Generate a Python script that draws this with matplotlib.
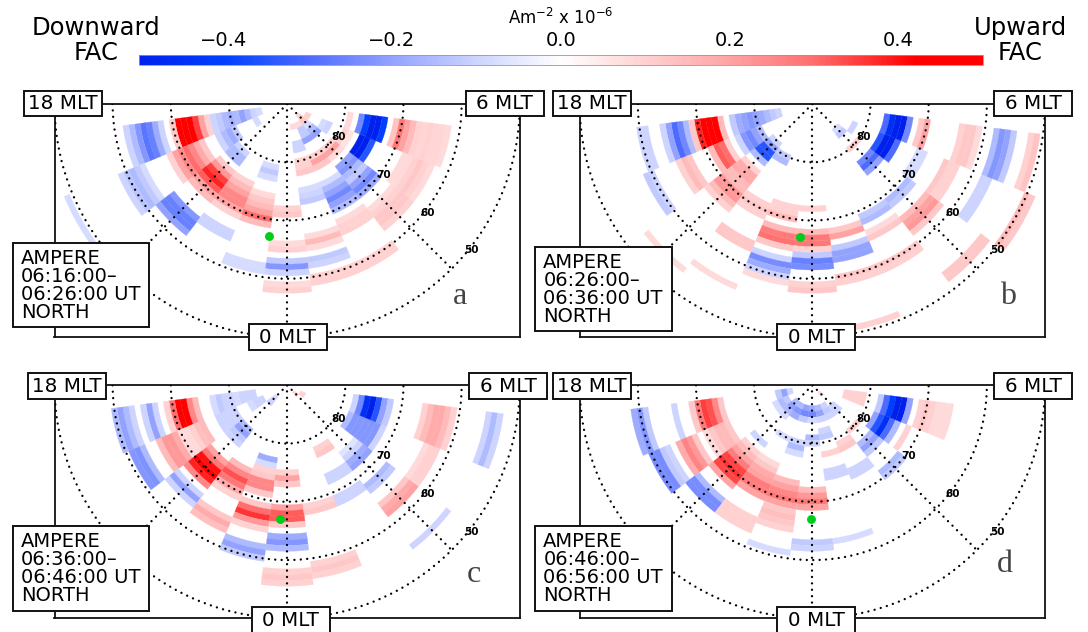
"""AMPERE field-aligned current dials, four 10 minute intervals, north."""
import matplotlib
matplotlib.use("Agg")
import matplotlib.pyplot as plt
import numpy as np
from matplotlib.cm import ScalarMappable
from matplotlib.collections import PolyCollection
from matplotlib.colors import LinearSegmentedColormap, Normalize
from matplotlib.patches import Rectangle

plt.rcParams["font.family"] = ["DejaVu Sans"]

# each entry: MLT bin (hours from midnight, dawn positive), first colatitude, values (Am-2 x 1e-6)
cells_a = [
    (-5, 22, [-.10, -.18, -.26, -.28, -.22, -.15, -.10]), (-5, 14, [.10, .20, .35, .48, .50, .48, .12]),
    (-5, 5, [-.08, -.10, -.15, -.20, -.15, -.17, -.15, -.12, -.10]),
    (-4, 6, [-.08]), (-4, 10, [-.12, -.18, -.15, -.10]), (-4, 16, [.12, .18, .25, .30, .25, .20, .10]),
    (-4, 27, [-.08, -.12, -.15, -.13, -.10]), (-4, 41, [-.08]),
    (-3, 11, [-.10, -.15, -.15]), (-3, 15, [.12, .22, .35, .38, .32, .20, .15]), (-3, 25, [-.22, -.26, -.26, -.20]),
    (-2, 15, [.10, .15, .20, .25, .25, .20, .10]), (-2, 24, [-.10, -.10]),
    (-1, 11, [-.08, -.12, -.08]), (-1, 16, [.08, .12, .15, .20, .30, .15]), (-1, 28, [-.08, -.08]),
    (0, 18, [.10, .12]), (0, 24, [.08, .10]), (0, 27, [-.12, -.22, -.10]), (0, 31, [.08, .10]),
    (1, 4, [.08]), (1, 7, [-.10, -.10]), (1, 10, [.10, .10, .12]), (1, 15, [-.08, -.10, -.12]),
    (1, 23, [.08, .15, .08]), (1, 27, [-.12, -.10]), (1, 30, [.10, .10]),
    (2, 4, [.08]), (2, 5, [-.12, -.12, -.20]), (2, 10, [.10, .20, .12]), (2, 15, [-.08, -.15, -.20, -.25, -.20, -.15]),
    (2, 22, [.08, .10, .10]), (2, 30, [.10, .10]),
    (3, 3, [.10, .12]), (3, 5, [-.08, -.15, -.20]), (3, 10, [.10, .20, .08]),
    (3, 14, [-.20, -.22, -.15, -.12, -.20, -.25, -.18]), (3, 23, [.08, .10, .12, .12, .10]),
    (4, 4, [.10]), (4, 7, [-.08, -.10]), (4, 11, [.10, .06]), (4, 14, [-.50, -.50, -.35]),
    (4, 22, [.08, .08, .10, .12, .10, .08]),
    (5, 11, [.08]), (5, 13, [-.25, -.40, -.50, -.50, -.40]),
    (5, 19, [.13, .28, .20, .15, .10, .09, .10, .09, .09, .08]),
]
cells_b = [
    (-5, 29, [-.10, -.10]), (-5, 22, [-.15, -.25, -.30, -.20, -.10]), (-5, 16, [.15, .50, .50, .50, .38, .12]),
    (-5, 6, [-.10, -.12, -.15, -.18, -.20, -.22, -.20, -.18, -.12]),
    (-4, 10, [-.15, -.20, -.25, -.22, -.10]), (-4, 16, [.10, .30, .32, .15]), (-4, 23, [.12, .15, .10]),
    (-4, 30, [-.10, -.12]),
    (-3, 9, [-.10, -.20, -.35, -.35, -.15]), (-3, 15, [.10, .18, .18, .15, .15, .22, .22, .15, .10]), (-3, 36, [.08]),
    (-2, 10, [-.12, -.15]), (-2, 19, [.10, .12, .10]), (-2, 26, [.12, .12]), (-2, 34, [.08]),
    (-1, 18, [.10, .10, .15]), (-1, 22, [.15, .27, .29, .12]), (-1, 27, [-.10, -.24, -.18, -.10]), (-1, 31, [.08]),
    (0, 18, [.10]), (0, 22, [.15, .28, .28, .10]), (0, 26, [-.12, -.26, -.24]), (0, 31, [.10, .12]),
    (1, 22, [.12, .20]), (1, 25, [-.12, -.20, -.20]), (1, 30, [.12, .10]), (1, 39, [.10]),
    (2, 21, [-.12, -.15]), (2, 24, [.08, .12]), (2, 30, [.12, .10]),
    (3, 6, [-.08, -.12]), (3, 10, [.10]), (3, 13, [-.25, -.30, -.20]), (3, 21, [-.15, -.12]),
    (3, 25, [.15, .20, .22, .12]), (3, 37, [.12, .12]),
    (4, 8, [-.10]), (4, 13, [-.35, -.50, -.50, -.30]), (4, 20, [-.08, -.08]), (4, 25, [.12, .10, .10]),
    (4, 32, [-.10, -.10]), (4, 40, [.15, .12]),
    (5, 13, [-.30, -.45, -.50, -.50, -.25]), (5, 19, [.12, .20]), (5, 26, [.10, .12, .12, .08]),
    (5, 32, [-.15, -.22, -.20, -.12]), (5, 38, [.10, .13]),
]
cells_c = [
    (-5, 6, [-.10, -.10, -.10, -.08, -.10, -.10, -.12, -.08]), (-5, 16, [.15, .25, .50, .50, .30, .10]),
    (-5, 23, [-.10, -.20, -.10]), (-5, 27, [-.10, -.15, -.20, -.15]),
    (-4, 5, [-.10, -.10, -.08]), (-4, 10, [-.10, -.10, -.10, -.10]), (-4, 16, [.15, .14, .10, .08, .08, .18, .22, .22, .15]),
    (-4, 27, [-.15, -.23, -.22]),
    (-3, 3, [-.08, -.10]), (-3, 10, [-.15, -.20, -.12, -.10]), (-3, 17, [.20, .28, .40, .46, .38, .25]),
    (-3, 24, [-.10, -.20, -.10]),
    (-2, 16, [.15, .25, .33, .28, .18, .10]), (-2, 25, [.12, .18, .14]),
    (-1, 13, [-.18, -.08]), (-1, 15, [.10, .12, .25, .25, .12]), (-1, 21, [.12, .30, .36, .22, .10]),
    (-1, 28, [-.15, -.20, -.12]),
    (0, 15, [.10, .20, .12]), (0, 21, [.20, .32, .32, .12]), (0, 26, [-.18, -.22, -.15]), (0, 32, [.10, .12, .10]),
    (1, 21, [.10, .12]), (1, 31, [.10, .12, .10]),
    (2, 12, [.10, .12]), (2, 17, [-.10, -.10]), (2, 21, [-.10, -.10]),
    (3, 2, [.10]), (3, 15, [-.06, -.10, -.18, -.20]), (3, 22, [-.15, -.12]), (3, 26, [.12, .18, .20]), (3, 35, [-.10]),
    (4, 3, [.10]), (4, 12, [-.15, -.22, -.22, -.22, -.22, -.22, -.10]), (4, 26, [.08, .10, .10]),
    (5, 12, [-.10, -.25, -.45, -.50, -.35, -.20, -.12]), (5, 24, [.10, .15, .18, .18, .15, .10]),
    (5, 35, [-.10, -.15, -.10]),
]
cells_d = [
    (-5, 4, [-.10, -.20, -.12]), (-5, 16, [.12, .25, .33, .35, .28, .12]), (-5, 24, [-.10]),
    (-5, 29, [-.12, -.22, -.18]),
    (-4, 5, [-.12, -.15, -.08]), (-4, 16, [.12, .15, .15, .12, .08]), (-4, 22, [.12, .22, .26, .18]),
    (-4, 27, [-.10, -.12, -.24, -.24]),
    (-3, 4, [-.15, -.20, -.15, -.08]), (-3, 13, [-.10]), (-3, 15, [.10, .15, .20, .27, .34, .36, .34, .20]),
    (-3, 25, [-.15, -.24, -.24]),
    (-2, 4, [-.15, -.22, -.18]), (-2, 10, [-.08]), (-2, 15, [.08, .12, .18, .20, .27, .27, .20]),
    (-2, 25, [.10, .10, .10]),
    (-1, 4, [-.20, -.25, -.12]), (-1, 10, [-.10, -.15, -.08]), (-1, 17, [.15, .20, .25, .28, .20]),
    (-1, 22, [.12, .14, .12, .10]), (-1, 29, [-.08]),
    (0, 4, [-.18, -.25, -.08]), (0, 9, [-.15, -.10]), (0, 18, [.15, .22, .28, .20]), (0, 27, [-.12, -.10]),
    (1, 4, [-.15, -.20, -.10]), (1, 8, [-.10, -.12]), (1, 12, [.10]), (1, 15, [-.10, -.10]), (1, 27, [-.08]),
    (2, 4, [-.10, -.12, -.10]), (2, 11, [.10, .12]), (2, 16, [-.10, -.10]),
    (3, 2, [.08]), (3, 5, [-.10, -.10]), (3, 10, [.10]), (3, 13, [-.15, -.20, -.12]), (3, 19, [-.15, -.12]),
    (4, 12, [-.20, -.35, -.45, -.30, -.15]), (4, 18, [.10]),
    (5, 6, [.10, .10, .10, .10]), (5, 12, [-.12, -.30, -.40, -.50, -.50, -.20]),
    (5, 19, [.10, .12, .10, .08, .08, .08]),
]

# green dot per interval, MLT and colatitude
dot_mlt = [-0.52, -0.36, -0.20, -0.04]
dot_colat = [22.9, 22.9, 22.9, 22.9]

panel_cells = [cells_a, cells_b, cells_c, cells_d]
panel_letters = ["a", "b", "c", "d"]
time_lines = ["06:16:00\u2013\n06:26:00 UT", "06:26:00\u2013\n06:36:00 UT",
              "06:36:00\u2013\n06:46:00 UT", "06:46:00\u2013\n06:56:00 UT"]
lat_labels = ["80", "70", "60", "50"]
tick_vals = [-0.4, -0.2, 0.0, 0.2, 0.4]

W, H = 1088, 632
# frame left, right, top, bottom in pixels
frames = [(54.5, 519.8, 104, 337), (579.7, 1045, 104, 337),
          (54.5, 519.8, 385.3, 618.3), (579.7, 1045, 385.3, 618.3)]
# label boxes: left edges of 18 MLT, 6 MLT, 0 MLT, info box
box_lefts = [(24.3, 465.6, 248.8, 12.8), (553, 994.4, 777.2, 535.3),
             (27.8, 469, 251.6, 12.8), (553, 994.4, 777.2, 535.3)]
box_tops = [(90.7, 324, 242.7), (90.7, 324, 246.7), (373.3, 607, 526), (373.3, 607, 526)]
letter_xy = [(459.8, 297), (1008, 297), (473.6, 575), (1004.8, 565)]
lat_label_xy = [(8.83, -5.72), (16.6, -12.2), (24.1, -18.7), (31.75, -25.1)]

fac_cmap = LinearSegmentedColormap.from_list("fac", [
    (0.0, (0.0, 0.13, 0.93)), (0.10, (0.0, 0.25, 1.0)), (0.20, (0.30, 0.42, 1.0)), (0.30, (0.58, 0.64, 1.0)),
    (0.40, (0.80, 0.83, 1.0)), (0.5, (1.0, 1.0, 1.0)), (0.60, (1.0, 0.82, 0.82)), (0.70, (1.0, 0.64, 0.64)),
    (0.80, (1.0, 0.43, 0.43)), (0.92, (1.0, 0.0, 0.0)), (1.0, (1.0, 0.0, 0.0))])
norm = Normalize(-0.5, 0.5)


def cell_polygon(mlt, colat):
    th = np.radians(np.linspace(mlt - 0.5, mlt + 0.5, 9) * 15)
    outer = np.c_[(colat + 0.5) * np.sin(th), -(colat + 0.5) * np.cos(th)]
    inner = np.c_[(colat - 0.5) * np.sin(th), -(colat - 0.5) * np.cos(th)]
    return np.vstack([outer, inner[::-1]])


def draw_panel(fig, frame, cells, mlt_dot, colat_dot):
    left, right, top, bottom = frame
    ax = fig.add_axes([left / W, 1 - bottom / H, (right - left) / W, (bottom - top) / H])
    ax.set_xlim(-40, 40)
    ax.set_ylim(-40, 0)
    ax.set_xticks([])
    ax.set_yticks([])
    for sp in ax.spines.values():
        sp.set_linewidth(1.3)
        sp.set_color("#111111")

    polys, vals = [], []
    for mlt, first, values in cells:
        for i, v in enumerate(values):
            polys.append(cell_polygon(mlt, first + i))
            vals.append(v)
    pc = PolyCollection(polys, array=np.array(vals), cmap=fac_cmap, norm=norm, edgecolors="face", linewidths=0.2)
    ax.add_collection(pc)

    dots = dict(color="black", lw=1.7, ls=(0, (0.01, 2.7)), dash_capstyle="round", zorder=3)
    th = np.radians(np.linspace(-90, 90, 361))
    for colat in [10, 20, 30, 40]:
        ax.plot(colat * np.sin(th), -colat * np.cos(th), **dots)
    for ang in [-45, 0, 45]:
        a = np.radians(ang)
        ax.plot([0, 40 * np.sin(a)], [0, -40 * np.cos(a)], **dots)

    a = np.radians(mlt_dot * 15)
    ax.plot(colat_dot * np.sin(a), -colat_dot * np.cos(a), "o", color="#00cd1a", ms=6.4, mec="none", zorder=4)
    for lab, (x, y) in zip(lat_labels, lat_label_xy):
        ax.text(x, y, lab, fontsize=7.5, fontweight="bold", ha="center", va="center", zorder=5)
    return ax


def label_box(over, left, top, width, height, text):
    over.add_patch(Rectangle((left, top), width, height, fc="white", ec="#111111", lw=1.4, zorder=6))
    over.text(left + width / 2, top + height / 2 + 0.5, text, ha="center", va="center", fontsize=14.3, zorder=7)


fig = plt.figure(figsize=(W / 100, H / 100), dpi=100)

for i in range(4):
    draw_panel(fig, frames[i], panel_cells[i], dot_mlt[i], dot_colat[i])

# overlay in image pixels for the boxes and headings
over = fig.add_axes([0, 0, 1, 1])
over.set_xlim(0, W)
over.set_ylim(H, 0)
over.axis("off")
over.patch.set_alpha(0)

for i in range(4):
    l18, l6, l0, linfo = box_lefts[i]
    t_top, t_bot, t_info = box_tops[i]
    label_box(over, l18, t_top, 78, 25.5, "18 MLT")
    label_box(over, l6, t_top, 78, 25.5, "6 MLT")
    label_box(over, l0, t_bot, 78, 25.5, "0 MLT")
    over.add_patch(Rectangle((linfo, t_info), 136.4, 84.6, fc="white", ec="#111111", lw=1.4, zorder=6))
    over.text(linfo + 8, t_info + 42.5, "AMPERE\n" + time_lines[i] + "\nNORTH", fontsize=14, linespacing=0.93,
              ha="left", va="center", zorder=7)
    over.text(*letter_xy[i], panel_letters[i], fontsize=23, family="Liberation Serif", color="#444444",
              ha="center", va="center", zorder=7)

over.text(96.5, 28, "Downward", fontsize=17.5, ha="center", va="center")
over.text(96.5, 53, "FAC", fontsize=17.5, ha="center", va="center")
over.text(1020, 28, "Upward", fontsize=17.5, ha="center", va="center")
over.text(1020, 53, "FAC", fontsize=17.5, ha="center", va="center")
over.text(561, 18, "Am$^{-2}$ x 10$^{-6}$", fontsize=12, ha="center", va="center")

cax = fig.add_axes([138.8 / W, 1 - 64.5 / H, (983 - 138.8) / W, 10 / H])
cb = fig.colorbar(ScalarMappable(norm=norm, cmap=fac_cmap), cax=cax, orientation="horizontal")
cb.set_ticks(tick_vals)
cb.set_ticklabels(["\u22120.4", "\u22120.2", "0.0", "0.2", "0.4"])
cax.xaxis.set_ticks_position("top")
cax.tick_params(length=0, labelsize=14, pad=3)
cb.outline.set_edgecolor("#999999")
cb.outline.set_linewidth(0.6)

fig.savefig("out.png", dpi=100)
